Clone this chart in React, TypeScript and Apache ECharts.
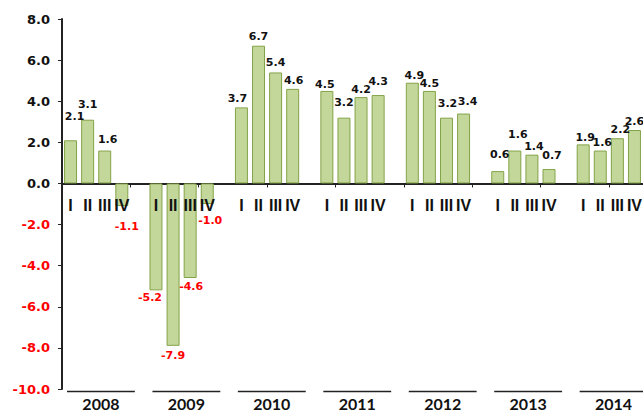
import React, { useEffect, useRef } from "react";
import * as echarts from "echarts";

// ---- data ----
const years = ["2008", "2009", "2010", "2011", "2012", "2013", "2014"];
const quarters = ["I", "II", "III", "IV"];
const q2008 = [2.1, 3.1, 1.6, -1.1];
const q2009 = [-5.2, -7.9, -4.6, -1.0];
const q2010 = [3.7, 6.7, 5.4, 4.6];
const q2011 = [4.5, 3.2, 4.2, 4.3];
const q2012 = [4.9, 4.5, 3.2, 3.4];
const q2013 = [0.6, 1.6, 1.4, 0.7];
const q2014 = [1.9, 1.6, 2.2, 2.6];
const yTicksMin = -10;
const yTicksMax = 8;
const yTickStep = 2;

// label nudges (layout only), [dx, dy] per quarter
const labelNudges = [
  [[4, -15], [0, -7], [3, -3], [5, 12]],
  [[-6, -1], [0, 1], [1, 0], [3, 8]],
  [[-4, 0], [0, -1], [0, -1], [1, 0]],
  [[-2, 2], [0, -7], [0, 1], [0, -5]],
  [[2, 1], [0, 1], [1, -6], [4, -4]],
  [[2, -8], [3, -8], [2, 0], [3, -5]],
  [[2, 2], [2, 0], [3, 0], [0, 0]],
];

const yearly = [q2008, q2009, q2010, q2011, q2012, q2013, q2014];

const NUM_FONT = "DejaVu Sans";

export default function App() {
  const ref = useRef<HTMLDivElement>(null);

  useEffect(() => {
    document.body.style.margin = "0";
    if (!ref.current) return;
    const chart = echarts.init(ref.current, null, { renderer: "svg" });

    const categories: string[] = [];
    const barData: any[] = [];
    const yearSpans: number[][] = [];
    const quarterMarks: number[][] = [];
    yearly.forEach((vals, yi) => {
      const start = categories.length;
      vals.forEach((v, qi) => {
        quarterMarks.push([categories.length, 0, qi]);
        categories.push(years[yi] + " " + quarters[qi]);
        const neg = v < 0;
        const [dx, dy] = labelNudges[yi][qi];
        barData.push({
          value: v,
          label: {
            position: neg ? "bottom" : "top",
            color: neg ? "#ff0000" : "#111111",
            offset: [dx, dy],
          },
        });
      });
      yearSpans.push([start, yTicksMin, start + vals.length - 1]);
      if (yi < yearly.length - 1) {
        categories.push(years[yi] + " gap");
        barData.push("-");
      }
    });

    chart.setOption({
      animation: false,
      backgroundColor: "#ffffff",
      grid: {
        left: 62,
        right: 0,
        top: 19,
        bottom: 22,
        containLabel: false,
        outerBoundsMode: "none",
      },
      xAxis: {
        type: "category",
        data: categories,
        axisLine: { onZero: true, lineStyle: { color: "#222", width: 2 } },
        axisTick: { show: true, length: 4, lineStyle: { color: "#222", width: 1 } },
        axisLabel: { show: false },
        splitLine: { show: false },
      },
      yAxis: {
        type: "value",
        min: yTicksMin,
        max: yTicksMax,
        interval: yTickStep,
        axisLine: { show: true, lineStyle: { color: "#222", width: 2 } },
        axisTick: { show: true, length: 4, lineStyle: { color: "#222", width: 1 } },
        splitLine: { show: false },
        axisLabel: {
          margin: 12,
          fontFamily: NUM_FONT,
          fontWeight: "bold",
          fontSize: 13,
          color: (v: any) => (Number(v) < 0 ? "#ff0000" : "#111111"),
          formatter: (v: number) => v.toFixed(1),
        },
      },
      series: [
        {
          type: "bar",
          data: barData,
          barWidth: "76%",
          itemStyle: { color: "#c4d79b", borderColor: "#83a347", borderWidth: 1 },
          label: {
            show: true,
            distance: 3,
            fontFamily: NUM_FONT,
            fontWeight: "bold",
            fontSize: 11,
            formatter: (p: any) => Number(p.value).toFixed(1),
          },
        },
        {
          type: "custom",
          clip: false,
          silent: true,
          z: 5,
          encode: { x: 0, y: 1 },
          data: quarterMarks,
          renderItem: (params: any, api: any) => {
            const c = api.coord([api.value(0), 0]);
            return {
              type: "text",
              x: c[0],
              y: c[1] + 22,
              style: {
                text: quarters[api.value(2)],
                fill: "#111",
                font: "bold 16px 'Liberation Sans'",
                align: "center",
                verticalAlign: "middle",
              },
            };
          },
        },
        {
          type: "custom",
          clip: false,
          silent: true,
          encode: { x: 0, y: 1 },
          data: yearSpans,
          renderItem: (params: any, api: any) => {
            const s = api.coord([api.value(0), 0]);
            const e = api.coord([api.value(2), 0]);
            const yb = api.coord([api.value(0), yTicksMin])[1];
            const w = api.size([1, 0])[0];
            const x0 = s[0] - w / 2 + 5;
            const x1 = e[0] + w / 2 + 4.5;
            return {
              type: "group",
              children: [
                {
                  type: "line",
                  shape: { x1: x0, y1: yb + 2.5, x2: x1, y2: yb + 2.5 },
                  style: { stroke: "#222", lineWidth: 1.5 },
                },
                {
                  type: "text",
                  x: (x0 + x1) / 2,
                  y: yb + 14,
                  style: {
                    text: years[params.dataIndex],
                    fill: "#111",
                    font: "bold 16px Lato",
                    align: "center",
                    verticalAlign: "middle",
                  },
                },
              ],
            };
          },
        },
      ],
    });

    return () => chart.dispose();
  }, []);

  return <div ref={ref} style={{ width: 643, height: 411 }} />;
}
